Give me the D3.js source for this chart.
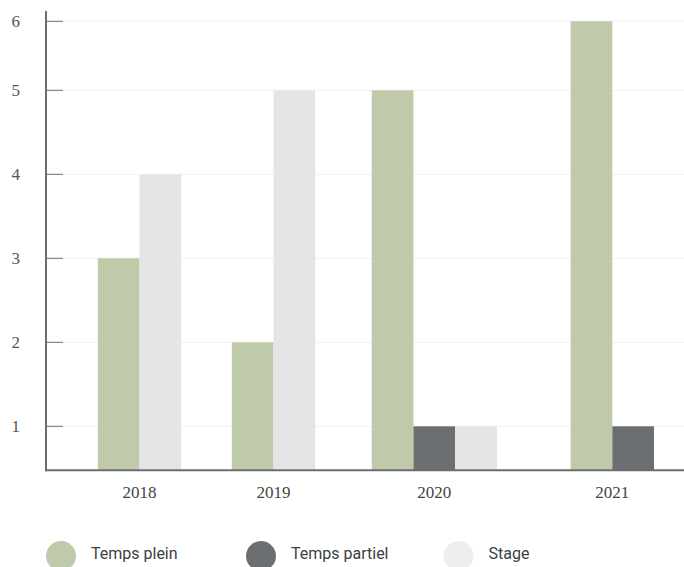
<!DOCTYPE html>
<html>
<head>
<meta charset="utf-8">
<script src="https://cdn.jsdelivr.net/npm/d3@7"></script>
<style>
  html, body { margin: 0; padding: 0; background: #fff; }
  svg { display: block; }
</style>
</head>
<body>
<svg id="chart" width="684" height="567"></svg>
<script>
// Contrats par année
const years = ["2018", "2019", "2020", "2021"];
const tempsPlein = [3, 2, 5, 6];
const tempsPartiel = [null, null, 1, 1];
const stage = [4, 5, 1, null];
const yTicks = [1, 2, 3, 4, 5, 6];

const seriesNames = ["Temps plein", "Temps partiel", "Stage"];
const seriesValues = [tempsPlein, tempsPartiel, stage];
const barColors = ["#bfcaab", "#6b6f71", "#e5e5e5"];
const legendColors = ["#bfcaab", "#6b6f71", "#eeeeee"];

const svg = d3.select("#chart");
const axisColor = "#6b6e70";
const plotLeft = 46, plotRight = 684;

// Vertical scale: baseline sits half a step below 1, top tick compressed
const y = d3.scaleLinear()
  .domain([0, 1, 5, 6])
  .range([470.3, 426.3, 90.3, 21.3]);

// Group centres along the horizontal axis
const x = d3.scaleLinear()
  .domain([0, 1, 2, 3])
  .range([139.5, 273.5, 434.3, 612.3]);

const barW = 41.7;

// Gridlines and tick marks
const ticks = svg.append("g");
ticks.selectAll("line.grid").data(yTicks).join("line")
  .attr("class", "grid")
  .attr("x1", 63).attr("x2", plotRight)
  .attr("y1", d => y(d)).attr("y2", d => y(d))
  .attr("stroke", "#f0f0f0").attr("stroke-width", 1);
ticks.selectAll("line.tick").data(yTicks).join("line")
  .attr("class", "tick")
  .attr("x1", plotLeft).attr("x2", 63)
  .attr("y1", d => y(d)).attr("y2", d => y(d))
  .attr("stroke", axisColor).attr("stroke-width", 1);
ticks.selectAll("text").data(yTicks).join("text")
  .attr("x", 20).attr("y", d => y(d))
  .attr("dy", "0.35em")
  .attr("text-anchor", "end")
  .attr("font-family", "'Liberation Serif', serif")
  .attr("font-size", 17)
  .attr("fill", "#555")
  .text(d => d);

// Bars: only the series present in a year are laid out, centred on the group
const bars = [];
years.forEach((yr, i) => {
  const present = seriesValues
    .map((vals, s) => ({ s, v: vals[i] }))
    .filter(d => d.v != null);
  const start = x(i) - present.length * barW / 2;
  present.forEach((d, k) => {
    bars.push({ year: yr, s: d.s, v: d.v, x0: start + k * barW });
  });
});

svg.append("g").selectAll("rect").data(bars).join("rect")
  .attr("x", d => d.x0)
  .attr("width", barW)
  .attr("y", d => y(d.v))
  .attr("height", d => y(0) - y(d.v))
  .attr("fill", d => barColors[d.s]);

// Axes lines
svg.append("line")
  .attr("x1", plotLeft).attr("x2", plotLeft)
  .attr("y1", 11).attr("y2", 471.3)
  .attr("stroke", axisColor).attr("stroke-width", 2);
svg.append("line")
  .attr("x1", plotLeft - 1).attr("x2", plotRight)
  .attr("y1", 470.3).attr("y2", 470.3)
  .attr("stroke", axisColor).attr("stroke-width", 2);

// Year labels
svg.append("g").selectAll("text").data(years).join("text")
  .attr("x", (d, i) => x(i))
  .attr("y", 498)
  .attr("text-anchor", "middle")
  .attr("font-family", "'Liberation Serif', serif")
  .attr("font-size", 17)
  .attr("fill", "#444")
  .text(d => d);

// Legend
const legendX = [61, 261, 458.5];
const legend = svg.append("g").selectAll("g").data(seriesNames).join("g")
  .attr("transform", (d, i) => `translate(${legendX[i]},556)`);
legend.append("circle")
  .attr("r", 15)
  .attr("fill", (d, i) => legendColors[i]);
legend.append("text")
  .attr("x", 30)
  .attr("y", 3)
  .attr("font-family", "Roboto, 'Open Sans', sans-serif")
  .attr("font-size", 16)
  .attr("fill", "#3a3f42")
  .text(d => d);
</script>
</body>
</html>
